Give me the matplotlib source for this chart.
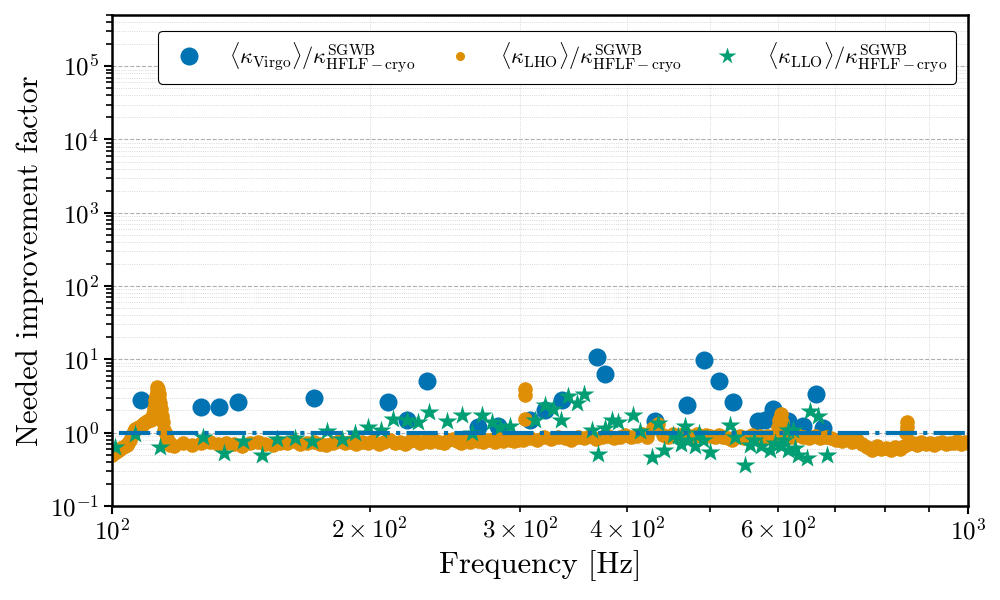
import numpy as np
import matplotlib
matplotlib.use('Agg')
import matplotlib.pyplot as plt

# LaTeX-like look without a TeX install
plt.rcParams['font.family'] = 'serif'
plt.rcParams['font.serif'] = ['cmr10']
plt.rcParams['mathtext.fontset'] = 'cm'
plt.rcParams['axes.formatter.use_mathtext'] = True
plt.rcParams['axes.unicode_minus'] = False

# colorblind palette
c_blue = '#0173b2'
c_orange = '#de8f05'
c_green = '#029e73'

# Virgo / HFLF-cryo
f_virgo = [108.1, 127.0, 133.4, 140.4, 172.2, 210.2, 221.3, 233.6, 267.3, 282.7,
           307.8, 320.5, 335.1, 368.9, 377.0, 430.7, 470.0, 492.0, 511.8, 531.4,
           568.9, 579.0, 592.4, 616.6, 642.2, 663.8, 677.6]
k_virgo = [2.8, 2.25, 2.2, 2.64, 2.99, 2.64, 1.50, 5.06, 1.19, 1.24,
           1.50, 2.05, 2.8, 10.8, 6.2, 1.45, 2.38, 9.9, 5.06, 2.64,
           1.45, 1.5, 2.10, 1.42, 1.24, 3.39, 1.15]

# LHO / HFLF-cryo (dense band)
f_lho = [100, 100.5, 101, 101.5, 102, 102.5, 103, 103.5, 104, 104.5, 105, 105.5, 106, 106.5,
         107, 107.5, 108, 108.5, 109, 109.5, 110, 110.5, 111, 111.5, 111.8, 112, 112.2,
         112.4, 112.6, 112.8, 113, 113.2, 113.4, 113.6, 113.8, 114, 114.3, 114.6, 115,
         115.5, 116, 116.5, 117, 118,
         121, 124, 127, 130, 133, 136, 139, 142, 145, 148, 151, 154, 157, 160, 163,
         166, 169, 172, 175, 178, 181, 184, 187, 190, 193, 196, 199, 202, 205, 208,
         211, 214, 217, 220, 223, 226, 229, 232, 235, 238, 241, 244, 247, 250, 253,
         256, 259, 262, 265, 268, 271, 274, 277, 280, 283, 286, 289, 292, 295, 298,
         303.5, 303.5, 303.5,
         302, 308, 314, 320, 326, 332, 338, 344, 350, 356, 362, 368, 374, 380, 386,
         392, 398, 404, 410, 416, 422, 428, 434, 440, 446, 452, 458, 464, 470, 476,
         482, 488, 494, 500, 506, 512, 518, 524, 530, 536, 542, 548, 554, 560, 566,
         572, 578, 584, 590, 596,
         600, 602, 604, 606, 608,
         612, 622, 632, 642, 652, 662, 672, 682, 692, 702, 712, 722, 732, 742, 752,
         762, 772, 782, 792, 802, 812, 822, 832, 842, 852, 862, 872, 882, 892, 902,
         912, 922, 932, 942, 952, 962, 972, 982, 992, 1000,
         847, 848, 849]
k_lho = [0.50, 0.53, 0.55, 0.57, 0.58, 0.61, 0.63, 0.66, 0.68, 0.73, 0.80, 0.92, 1.05, 1.12,
         1.15, 1.2, 1.22, 1.28, 1.35, 1.4, 1.45, 1.48, 1.5, 1.6, 1.8, 2.1, 2.4,
         2.8, 3.2, 3.7, 4.2, 3.9, 3.4, 2.9, 2.5, 2.1, 1.7, 1.4, 1.1,
         0.95, 0.82, 0.74, 0.68, 0.66,
         0.72, 0.68, 0.71, 0.74, 0.69, 0.73, 0.70, 0.66, 0.72, 0.75, 0.70, 0.68, 0.73, 0.71, 0.76,
         0.69, 0.72, 0.74, 0.70, 0.67, 0.73, 0.76, 0.71, 0.74, 0.69, 0.75, 0.72, 0.77, 0.70, 0.74,
         0.78, 0.72, 0.75, 0.70, 0.76, 0.79, 0.73, 0.77, 0.74, 0.80, 0.75, 0.72, 0.78, 0.81, 0.76,
         0.73, 0.79, 0.75, 0.82, 0.77, 0.74, 0.80, 0.78, 0.75, 0.81, 0.77, 0.83, 0.79, 0.76, 0.80,
         3.9, 3.3, 1.55,
         0.80, 0.84, 0.78, 0.86, 0.82, 0.88, 0.83, 0.80, 0.87, 0.84, 0.89, 0.82, 0.86, 0.90, 0.84,
         0.88, 0.92, 0.86, 0.90, 0.95, 0.88, 1.15, 1.30, 0.92, 0.88, 0.95, 0.90, 0.97, 0.93, 0.88,
         0.96, 0.91, 0.94, 0.89, 0.86, 0.92, 0.88, 0.83, 0.78, 0.86, 0.90, 0.84, 0.88, 0.92, 0.85,
         0.89, 0.84, 0.91, 0.87, 0.90,
         1.2, 1.5, 1.8, 1.4, 1.0,
         0.90, 0.86, 0.92, 0.87, 0.84, 0.90, 0.85, 0.88, 0.83, 0.80, 0.76, 0.82, 0.74, 0.78, 0.70,
         0.64, 0.58, 0.66, 0.60, 0.62, 0.57, 0.64, 0.60, 0.66, 0.70, 0.72, 0.68, 0.74, 0.70, 0.73,
         0.67, 0.72, 0.75, 0.69, 0.73, 0.71, 0.76, 0.70, 0.74, 0.72,
         1.0, 1.2, 1.4]

# LLO / HFLF-cryo
f_llo = [100.8, 106.4, 113.8, 127.9, 135.3, 142.4, 149.6, 155.7, 163.6, 171.1,
         178.2, 185.5, 192.2, 199.3, 206.3, 213.2, 220.9, 228.0, 234.8, 246.0,
         256.2, 263.1, 270.8, 277.7, 284.0, 291.7, 312.0, 320.6, 327.8, 335.0,
         341.3, 349.1, 356.3, 363.4, 369.9, 376.7, 383.5, 390.0, 406.4, 414.0,
         427.7, 434.7, 441.9, 452.6, 458.0, 462.0, 467.1, 471.0, 480.0, 485.0,
         490.7, 499.5, 527.2, 534.4, 549.0, 556.0, 562.0, 573.5, 587.2, 595.0,
         605.0, 610.0, 616.5, 616.6, 625.0, 628.0, 633.8, 648.1, 653.8, 668.4, 683.9]
k_llo = [0.63, 0.95, 0.63, 0.87, 0.53, 0.76, 0.50, 0.82, 0.84, 0.76,
         1.04, 0.82, 1.0, 1.19, 1.1, 1.53, 1.5, 1.38, 1.88, 1.42,
         1.75, 1.0, 1.75, 1.38, 1.19, 1.24, 1.5, 2.4, 2.1, 1.5,
         3.12, 2.53, 3.39, 1.1, 0.51, 1.15, 1.5, 1.38, 1.75, 1.04,
         0.47, 1.35, 0.58, 0.93, 0.9, 0.7, 1.21, 0.8, 0.66, 1.0,
         0.8, 0.55, 1.28, 0.88, 0.36, 0.68, 0.8, 0.65, 0.58, 0.72,
         0.65, 0.78, 1.1, 0.58, 1.1, 0.62, 0.5, 0.45, 1.95, 1.7, 0.5]

fig = plt.figure(figsize=(10, 6), dpi=100)
ax = fig.add_axes([0.112, 0.157, 0.856, 0.818])

ax.plot(f_virgo, k_virgo, 'o', color=c_blue, markersize=13, mec='none',
        label=r'$\langle\kappa_{\mathrm{Virgo}}\rangle/\kappa^{\mathrm{SGWB}}_{\mathrm{HFLF-cryo}}$')
ax.plot(f_lho, k_lho, 'o', color=c_orange, markersize=10.5, mec='none',
        label=r'$\langle\kappa_{\mathrm{LHO}}\rangle/\kappa^{\mathrm{SGWB}}_{\mathrm{HFLF-cryo}}$')
ax.plot(f_llo, k_llo, '*', color=c_green, markersize=15, mec='none',
        label=r'$\langle\kappa_{\mathrm{LLO}}\rangle/\kappa^{\mathrm{SGWB}}_{\mathrm{HFLF-cryo}}$')
# reference level = 1
ax.plot([min(f_llo) + 1.2, max(f_lho) - 5], [1, 1], color=c_blue, linewidth=3,
        dashes=(7.5, 1.5, 1, 1.5))

ax.set_xscale('log')
ax.set_yscale('log')
ax.set_xlim(100, 1000)
ax.set_ylim(0.1, 5e5)

ax.grid(True, which='major', linestyle='--', color='#b0b0b0', linewidth=0.8)
ax.grid(True, which='minor', linestyle=':', color='#cccccc', linewidth=0.6)
ax.set_axisbelow(True)

for s in ax.spines.values():
    s.set_linewidth(1.8)
ax.tick_params(which='major', direction='out', length=6, width=1.5, labelsize=18)
ax.tick_params(which='minor', direction='out', length=4, width=1.2, labelsize=18)

ax.set_xlabel('Frequency [Hz]', fontsize=22)
ax.set_ylabel('Needed improvement factor', fontsize=22)

leg = ax.legend(loc='upper center', ncol=3, fontsize=16, framealpha=1,
                edgecolor='black', fancybox=True, columnspacing=1.0,
                bbox_to_anchor=(0.52, 0.99))
leg.get_frame().set_linewidth(0.8)
leg.legend_handles[1].set_markersize(6.5)
leg.legend_handles[2].set_markersize(13)

fig.savefig('out.png', dpi=100)
